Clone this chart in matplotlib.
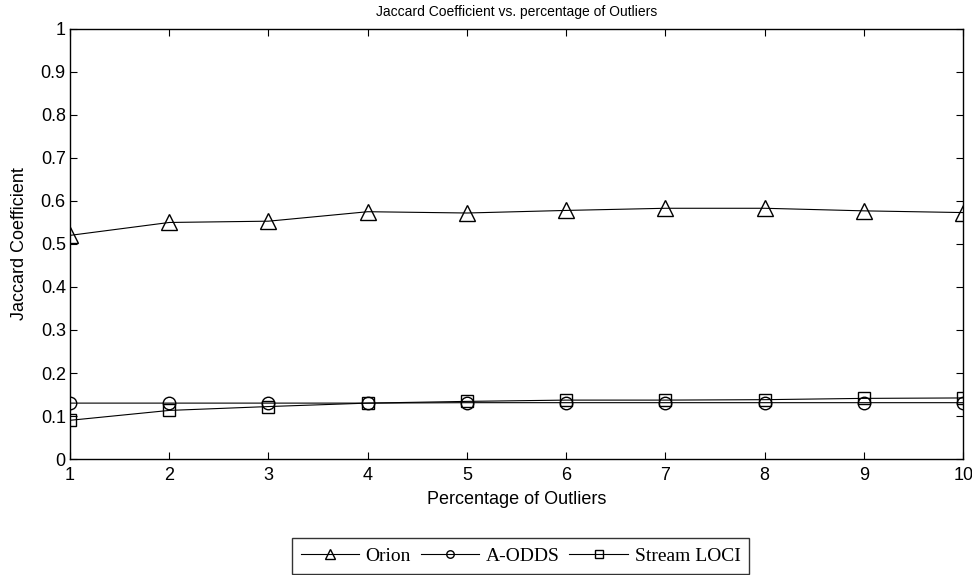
import numpy as np
import matplotlib.pyplot as plt

pct = [1, 2, 3, 4, 5, 6, 7, 8, 9, 10]
orion = [0.520, 0.550, 0.553, 0.575, 0.572, 0.578, 0.583, 0.583, 0.577, 0.573]
aodds = [0.130, 0.130, 0.130, 0.130, 0.131, 0.131, 0.131, 0.131, 0.131, 0.131]
loci = [0.090, 0.113, 0.122, 0.130, 0.134, 0.137, 0.137, 0.138, 0.141, 0.142]
yticklabels = ['0', '0.1', '0.2', '0.3', '0.4', '0.5', '0.6', '0.7', '0.8', '0.9', '1']

fig = plt.figure(figsize=(9.72, 5.75), dpi=100)
ax = fig.add_axes([0.072, 0.2017, 0.919, 0.748])

ax.plot(pct, orion, 'k-^', mfc='none', markersize=11, linewidth=0.8, label='Orion')
ax.plot(pct, aodds, 'k-o', mfc='none', markersize=9, linewidth=0.8, label='A-ODDS')
ax.plot(pct, loci, 'k-s', mfc='none', markersize=8.5, linewidth=0.8, label='Stream LOCI')

ax.set_xlim(1, 10)
ax.set_ylim(0, 1)
ax.set_xticks(pct)
ax.set_yticks(np.arange(0, 1.01, 0.1))
ax.set_yticklabels(yticklabels)
ax.tick_params(direction='in', top=True, right=True, length=5, labelsize=13,
               labelfontfamily='Liberation Sans')
ax.tick_params(axis='x', pad=6)
ax.tick_params(axis='y', pad=3)
for s in ax.spines.values():
    s.set_linewidth(1.0)

ax.set_xlabel('Percentage of Outliers', fontsize=13, family='Liberation Sans', labelpad=5)
ax.set_ylabel('Jaccard Coefficient', fontsize=13, family='Liberation Sans', labelpad=9)
ax.set_title('Jaccard Coefficient vs. percentage of Outliers', fontsize=10,
             family='Liberation Sans', pad=9)

leg = fig.legend(loc='center', bbox_to_anchor=(0.5355, 0.033), ncol=3,
                 prop={'family': 'Liberation Serif', 'size': 14},
                 handlelength=3.0, columnspacing=0.5, handletextpad=0.35,
                 markerscale=0.6, frameon=True, fancybox=False, borderpad=0.45)
leg.get_frame().set_edgecolor('black')
leg.get_frame().set_linewidth(1.0)

fig.savefig('out.png', dpi=100)
